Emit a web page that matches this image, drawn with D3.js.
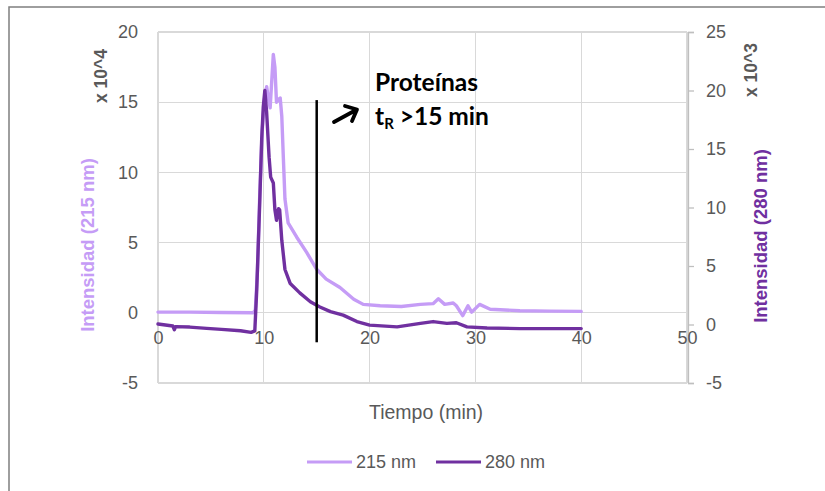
<!DOCTYPE html>
<meta charset="utf-8">
<style>
  body { margin: 0; background: #fff; }
  svg { display: block; font-family: "Liberation Sans", Arial, sans-serif; }
  .grid line { stroke: #d9d9d9; stroke-width: 1.3px; shape-rendering: crispEdges; }
  .tick-label { fill: #595959; font-size: 18px; }
  .trace { fill: none; stroke-width: 3.4px; stroke-linejoin: round; stroke-linecap: round; }
</style>
<body>
<script src="https://d3js.org/d3.v7.min.js"></script>
<script>

// 215 nm trace (left axis, x10^4)
var time215 = [0, 3, 6, 9, 9.2, 9.4, 9.6, 9.85, 10.1, 10.27, 10.45, 10.6, 10.75, 10.9, 11.05, 11.2, 11.4, 11.55, 11.7, 11.85, 12.0, 12.3, 13.1, 14.05, 15.0, 15.9, 17.2, 18.5, 19.4, 21, 23, 24.8, 26, 26.5, 27.1, 27.9, 28.2, 28.8, 29.3, 29.65, 30.4, 31.4, 34.2, 37, 40];
var val215 = [0.05, 0.05, 0.02, 0.0, 0.2, 3, 8, 13, 15.5, 16.1, 15.2, 14.6, 16.5, 18.4, 17.5, 15.0, 15.2, 15.3, 14.0, 11, 8.1, 6.4, 5.4, 4.3, 3.1, 2.4, 1.8, 0.97, 0.6, 0.5, 0.45, 0.6, 0.65, 1.0, 0.6, 0.7, 0.5, -0.2, 0.5, 0.05, 0.6, 0.25, 0.15, 0.12, 0.1];

// 280 nm trace (right axis, x10^3)
var time280 = [0, 1.4, 1.55, 1.65, 3, 4.6, 6, 7.8, 8.8, 9.15, 9.33, 9.6, 9.8, 9.95, 10.1, 10.27, 10.5, 10.65, 10.9, 11.05, 11.2, 11.4, 11.5, 11.7, 12.0, 12.5, 13.4, 14.4, 15.3, 16.3, 17.5, 18.8, 20, 22.6, 24.8, 26, 27.3, 28.2, 29.2, 31.1, 34.2, 37, 40];
var val280 = [0.04, -0.13, -0.45, -0.18, -0.22, -0.33, -0.42, -0.53, -0.67, -0.55, 2.9, 10, 15.8, 18.6, 20.0, 18.1, 14.3, 12.6, 12.1, 9.8, 8.9, 9.9, 9.8, 7.2, 4.7, 3.5, 2.7, 1.95, 1.5, 1.1, 0.8, 0.25, -0.05, -0.2, 0.1, 0.25, 0.1, 0.15, -0.2, -0.3, -0.35, -0.35, -0.35];

var xTicks = [0, 10, 20, 30, 40, 50];
var leftTicks = [-5, 0, 5, 10, 15, 20];
var rightTicks = [-5, 0, 5, 10, 15, 20, 25];

var color215 = "#c59cf6";
var color280 = "#7030a0";

var W = 825, H = 491;
var svg = d3.select("body").append("svg").attr("width", W).attr("height", H);

// chart border
svg.append("rect").attr("x", 9).attr("y", 7).attr("width", 830).attr("height", 500)
  .attr("fill", "#fff").attr("stroke", "#7f7f7f").attr("stroke-width", 1.5);

var x = d3.scaleLinear().domain([0, 50]).range([158, 687]);
var yL = d3.scaleLinear().domain([-5, 20]).range([383, 32]);
var yR = d3.scaleLinear().domain([-5, 25]).range([383, 32]);
var plain = function(d) { return String(d); };

// gridlines
var grid = svg.append("g").attr("class", "grid");
grid.selectAll(".h").data(leftTicks).enter().append("line")
  .attr("x1", x(0)).attr("x2", x(50))
  .attr("y1", function(d) { return yL(d); }).attr("y2", function(d) { return yL(d); });
grid.selectAll(".v").data(xTicks).enter().append("line")
  .attr("x1", function(d) { return x(d); }).attr("x2", function(d) { return x(d); })
  .attr("y1", yL(20)).attr("y2", yL(-5));

// right axis with ticks
var rAxis = svg.append("g").attr("transform", "translate(" + (x(50) + 1) + ",0)")
  .call(d3.axisRight(yR).tickValues(rightTicks).tickFormat(plain).tickSize(6).tickPadding(12));
rAxis.select(".domain").attr("stroke", "#bfbfbf").attr("stroke-width", 1.3);
rAxis.selectAll(".tick line").attr("stroke", "#bfbfbf").attr("stroke-width", 1.3);
rAxis.selectAll(".tick text").attr("class", "tick-label").attr("font-size", null).attr("font-family", null);

// left axis labels
var lAxis = svg.append("g").attr("transform", "translate(" + x(0) + ",0)")
  .call(d3.axisLeft(yL).tickValues(leftTicks).tickFormat(plain).tickSize(0).tickPadding(20));
lAxis.select(".domain").remove();
lAxis.selectAll(".tick text").attr("class", "tick-label").attr("font-size", null).attr("font-family", null);

// x axis labels (crossing at right-axis zero)
var xAxis = svg.append("g").attr("transform", "translate(0," + yR(0) + ")")
  .call(d3.axisBottom(x).tickValues(xTicks).tickFormat(plain).tickSize(0).tickPadding(7));
xAxis.select(".domain").remove();
xAxis.selectAll(".tick text").attr("class", "tick-label").attr("font-size", null).attr("font-family", null);

// traces
var line215 = d3.line().x(function(d) { return x(d[0]); }).y(function(d) { return yL(d[1]); });
var line280 = d3.line().x(function(d) { return x(d[0]); }).y(function(d) { return yR(d[1]); });

svg.append("path").datum(d3.zip(time215, val215)).attr("class", "trace")
  .attr("stroke", color215).attr("d", line215);
svg.append("path").datum(d3.zip(time280, val280)).attr("class", "trace")
  .attr("stroke", color280).attr("d", line280);

// vertical marker at 15 min
svg.append("line").attr("x1", x(15)).attr("x2", x(15))
  .attr("y1", yL(15.15)).attr("y2", yL(-2.1))
  .attr("stroke", "#000").attr("stroke-width", 2.5);

// arrow
svg.append("path").attr("d", "M334,122 L356,110 M345,106 L357,109.5 L352,121")
  .attr("fill", "none").attr("stroke", "#000").attr("stroke-width", 3.8)
  .attr("stroke-linecap", "round").attr("stroke-linejoin", "round");

// annotation
var ann = svg.append("g").attr("font-family", "Lato, 'Open Sans', sans-serif")
  .attr("font-weight", "bold").attr("font-size", 24.5).attr("fill", "#000");
ann.append("text").attr("x", 375).attr("y", 91).text("Proteínas");
var t2 = ann.append("text").attr("x", 375).attr("y", 125);
t2.append("tspan").text("t");
t2.append("tspan").attr("font-size", 15).attr("dy", 4).text("R");
t2.append("tspan").attr("dy", -4).text(" >15 min");

// axis titles
svg.append("text").attr("transform", "translate(107,76) rotate(-90)")
  .attr("text-anchor", "middle").attr("font-weight", "bold").attr("font-size", 17.5)
  .attr("fill", "#595959").text("x 10^4");
svg.append("text").attr("transform", "translate(94,245) rotate(-90)")
  .attr("text-anchor", "middle").attr("font-weight", "bold").attr("font-size", 18.5)
  .attr("fill", color215).text("Intensidad (215 nm)");
svg.append("text").attr("transform", "translate(757,70) rotate(-90)")
  .attr("text-anchor", "middle").attr("font-weight", "bold").attr("font-size", 17.5)
  .attr("fill", "#595959").text("x 10^3");
svg.append("text").attr("transform", "translate(767,236) rotate(-90)")
  .attr("text-anchor", "middle").attr("font-weight", "bold").attr("font-size", 18.5)
  .attr("fill", color280).text("Intensidad (280 nm)");
svg.append("text").attr("x", 426).attr("y", 419).attr("text-anchor", "middle")
  .attr("class", "tick-label").attr("font-size", 19.5).style("font-size", "19.5px").text("Tiempo (min)");

// legend
var legend = [["215 nm", color215, 307], ["280 nm", color280, 436]];
legend.forEach(function(l) {
  svg.append("line").attr("x1", l[2]).attr("x2", l[2] + 45).attr("y1", 462).attr("y2", 462)
    .attr("stroke", l[1]).attr("stroke-width", 3);
  svg.append("text").attr("x", l[2] + 49).attr("y", 468).attr("class", "tick-label").text(l[0]);
});

</script>
</body>
